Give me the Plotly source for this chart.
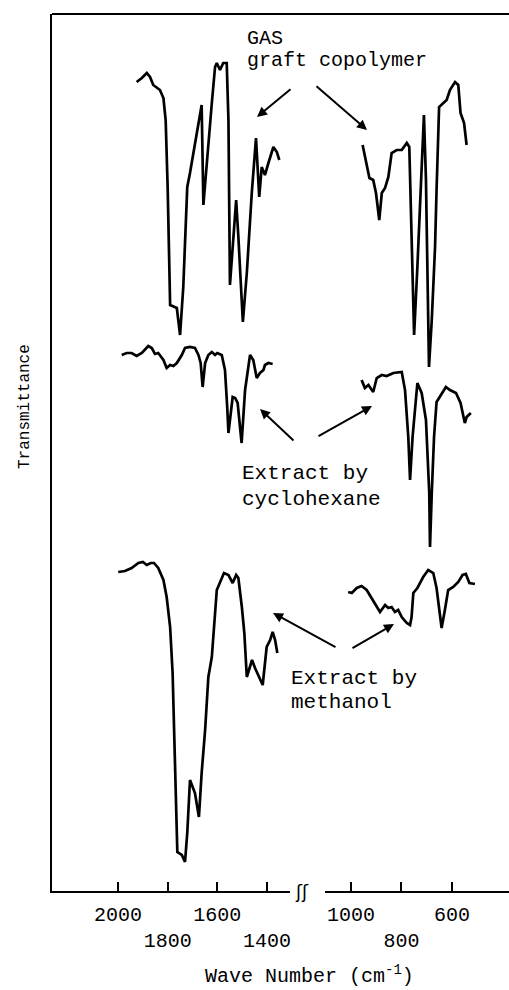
import plotly.graph_objects as go

# ---------------- data (wavenumber in cm^-1, transmittance in arbitrary offset units) ----------------
gas_left_wn = [1925, 1904, 1884, 1871, 1858, 1844, 1831, 1817, 1808, 1800, 1790, 1763, 1750, 1737, 1721, 1710,
               1676, 1663, 1656, 1642, 1622, 1609, 1602, 1589, 1576, 1562, 1555, 1549, 1535, 1524, 1515, 1497,
               1481, 1461, 1444, 1431, 1421, 1408, 1394, 1374, 1360, 1350]
gas_left_t = [809, 813, 818, 814, 806, 803, 801, 793, 771, 704, 586, 583, 556, 604, 704, 718,
              768, 786, 686, 731, 788, 824, 828, 821, 828, 828, 771, 606, 658, 691, 654, 569,
              618, 698, 753, 694, 724, 716, 728, 744, 739, 731]

gas_right_wn = [954, 938, 927, 912, 901, 888, 878, 865, 852, 839, 819, 799, 779, 769, 760, 750, 737, 727,
                720, 711, 703, 698, 691, 680, 667, 661, 651, 634, 621, 608, 588, 575, 566, 552, 542]
gas_right_t = [746, 724, 713, 711, 698, 671, 698, 703, 714, 738, 741, 741, 748, 744, 651, 556, 624, 678,
               728, 776, 711, 628, 524, 571, 644, 701, 784, 788, 791, 801, 809, 806, 778, 768, 746]

cyc_left_wn = [1985, 1965, 1945, 1925, 1904, 1878, 1864, 1851, 1838, 1817, 1804, 1790, 1777, 1763, 1743,
               1730, 1710, 1690, 1676, 1667, 1659, 1649, 1636, 1622, 1609, 1600, 1582, 1569, 1560, 1555,
               1538, 1528, 1518, 1502, 1488, 1468, 1455, 1441, 1428, 1414, 1408, 1394, 1377]
cyc_left_t = [536, 538, 538, 535, 538, 545, 543, 537, 538, 531, 523, 526, 525, 528, 536,
              543, 544, 543, 536, 528, 504, 528, 536, 539, 536, 538, 536, 521, 484, 458,
              494, 493, 488, 448, 501, 536, 531, 513, 518, 521, 526, 528, 527]

cyc_right_wn = [958, 945, 931, 912, 898, 878, 859, 832, 799, 786, 773, 766, 756, 737, 720, 703, 690, 687,
                680, 671, 661, 648, 624, 608, 584, 566, 549, 542, 525]
cyc_right_t = [511, 503, 506, 499, 513, 516, 515, 518, 519, 501, 454, 411, 454, 508, 498, 471, 398, 344,
               398, 454, 489, 494, 504, 501, 498, 488, 468, 474, 478]

meth_left_wn = [1999, 1972, 1945, 1918, 1900, 1884, 1868, 1855, 1838, 1817, 1804, 1790, 1780, 1774, 1766,
                1761, 1743, 1730, 1721, 1710, 1690, 1674, 1663, 1649, 1636, 1622, 1602, 1586, 1573, 1555,
                1538, 1524, 1515, 1501, 1491, 1481, 1471, 1460, 1448, 1431, 1417, 1401, 1387, 1377, 1367, 1358]
meth_left_t = [319, 320, 323, 328, 329, 326, 328, 328, 323, 311, 294, 264, 218, 151, 84,
               39, 36, 29, 58, 111, 98, 74, 118, 161, 214, 234, 301, 311, 318, 316,
               308, 316, 313, 284, 258, 214, 223, 231, 223, 214, 206, 244, 251, 259, 251, 238]

meth_right_wn = [1011, 997, 977, 958, 938, 918, 898, 885, 865, 852, 839, 826, 813, 799, 779, 766, 760,
                 753, 737, 714, 694, 674, 661, 648, 641, 628, 615, 595, 575, 558, 545, 531, 509]
meth_right_t = [299, 298, 303, 305, 301, 293, 284, 279, 286, 283, 284, 279, 281, 274, 268, 266, 274,
                298, 303, 314, 321, 318, 303, 274, 263, 281, 301, 304, 309, 316, 317, 308, 307]

left_ticks = [2000, 1800, 1600, 1400]
left_ticktext = ["2000", "<br>1800", "1600", "<br>1400"]
right_ticks = [1000, 800, 600]
right_ticktext = ["1000", "<br>800", "600"]

labels_gas = ["GAS", "graft copolymer"]
labels_cyc = ["Extract by", "cyclohexane"]
labels_meth = ["Extract by", "methanol"]

# ---------------- layout geometry ----------------
W, H = 509, 990
L, R, T, B = 52, 0, 14, 99
PW = W - L - R
PH = H - T - B


def px_x(px):
    return (px - L) / PW


def px_y(py):
    return (H - B - py) / PH


FONT = "Liberation Mono"
LW = 2.7

fig = go.Figure()
for wn, t in [(gas_left_wn, gas_left_t), (cyc_left_wn, cyc_left_t), (meth_left_wn, meth_left_t)]:
    fig.add_trace(go.Scatter(x=wn, y=t, mode="lines", xaxis="x", yaxis="y",
                             line=dict(color="black", width=LW), showlegend=False, hoverinfo="skip"))
for wn, t in [(gas_right_wn, gas_right_t), (cyc_right_wn, cyc_right_t), (meth_right_wn, meth_right_t)]:
    fig.add_trace(go.Scatter(x=wn, y=t, mode="lines", xaxis="x2", yaxis="y",
                             line=dict(color="black", width=LW), showlegend=False, hoverinfo="skip"))

axis_common = dict(showline=True, linewidth=2, linecolor="black", ticks="inside", ticklen=9,
                   tickwidth=2, tickcolor="black", showgrid=False, zeroline=False, tickangle=0,
                   automargin=False, ticklabelstandoff=4,
                   tickfont=dict(family=FONT, size=20, color="black"), tickmode="array")

fig.update_layout(
    width=W, height=H, autosize=False,
    margin=dict(l=L, r=R, t=T, b=B, pad=0, autoexpand=False),
    paper_bgcolor="white", plot_bgcolor="white",
    xaxis=dict(domain=[0, px_x(290)], range=[2266, 1307], tickvals=left_ticks,
               ticktext=left_ticktext, anchor="y", **axis_common),
    xaxis2=dict(domain=[px_x(325), 1], range=[1103, 374], tickvals=right_ticks,
                ticktext=right_ticktext, anchor="y", **axis_common),
    yaxis=dict(domain=[0, 1], range=[0, PH], showline=True, linewidth=2, linecolor="black",
               showticklabels=False, ticks="", showgrid=False, zeroline=False, anchor="x",
               automargin=False),
    showlegend=False,
)

# top border
fig.add_shape(type="line", xref="paper", yref="paper", x0=0, x1=1, y0=1, y1=1,
              line=dict(color="black", width=2))

txt_font = dict(family=FONT, size=20, color="black")
annos = []


def text(s, x, y, size=21, **kw):
    annos.append(dict(text=s, x=px_x(x), y=px_y(y), xref="paper", yref="paper", showarrow=False,
                      xanchor="left", yanchor="middle", font=dict(family=FONT, size=size, color="black"), **kw))


text(labels_gas[0], 245, 39, size=20)
text(labels_gas[1], 245, 60, size=20)
text(labels_cyc[0], 240, 474)
text(labels_cyc[1], 240, 499)
text(labels_meth[0], 289, 678)
text(labels_meth[1], 289, 702)


def arrow(head, tail):
    annos.append(dict(text="", x=px_x(head[0]), y=px_y(head[1]), xref="paper", yref="paper",
                      showarrow=True, axref="pixel", ayref="pixel",
                      ax=tail[0] - head[0], ay=tail[1] - head[1],
                      arrowhead=2, arrowsize=1, arrowwidth=2, arrowcolor="black"))


arrow((257, 117), (292, 88))
arrow((367, 130), (315, 85))
arrow((260, 409), (295, 442))
arrow((372, 406), (317, 437))
arrow((273, 613), (337, 648))
arrow((394, 624), (351, 649))

# axis break mark
annos.append(dict(text="ʃʃ", x=px_x(302), y=0, xref="paper", yref="paper", showarrow=False,
                  xanchor="center", yanchor="middle", font=dict(family="DejaVu Sans", size=18, color="black")))

# axis titles
annos.append(dict(text="Wave Number (cm<sup>-1</sup>)", x=px_x(309), y=px_y(975), xref="paper", yref="paper",
                  showarrow=False, xanchor="center", yanchor="middle", font=txt_font))
annos.append(dict(text="Transmittance", x=px_x(25), y=px_y(407), xref="paper", yref="paper",
                  showarrow=False, xanchor="center", yanchor="middle", textangle=-90,
                  font=dict(family=FONT, size=16, color="black")))

fig.update_layout(annotations=annos)

fig.write_html("out.html",
               config={"displayModeBar": False, "staticPlot": True},
               post_script="document.body.style.margin='0';document.body.style.padding='0';"
                           "document.documentElement.style.overflow='hidden';")
